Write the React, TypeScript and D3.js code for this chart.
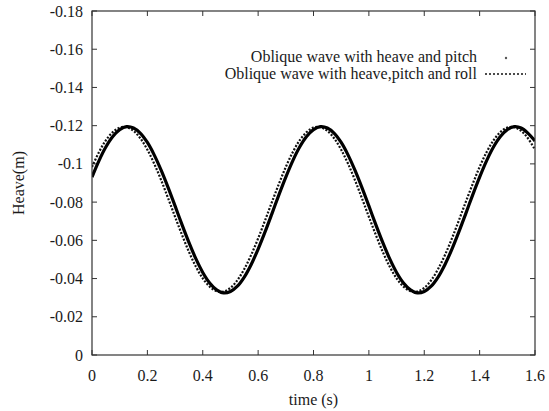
import React from "react";
import * as d3 from "d3";

const period1: number[] = [
  -0.0931, -0.1016, -0.1088, -0.1143, -0.1179, -0.1195, -0.1188, -0.1160, -0.1112, -0.1046,
  -0.0966, -0.0876, -0.0780, -0.0682, -0.0589, -0.0504, -0.0432, -0.0377, -0.0341, -0.0325,
  -0.0332, -0.0360, -0.0408, -0.0474, -0.0554, -0.0644, -0.0740, -0.0838,
];
const period2: number[] = [
  -0.0984, -0.1061, -0.1123, -0.1166, -0.1190, -0.1192, -0.1173, -0.1133, -0.1074, -0.1000,
  -0.0914, -0.0820, -0.0723, -0.0629, -0.0540, -0.0463, -0.0401, -0.0358, -0.0334, -0.0332,
  -0.0351, -0.0391, -0.0450, -0.0524, -0.0610, -0.0704, -0.0801, -0.0895,
];

// time samples every 0.025 s from 0 to 1.6
const times: number[] = [
  0, 0.025, 0.05, 0.075, 0.1, 0.125, 0.15, 0.175, 0.2, 0.225, 0.25, 0.275, 0.3, 0.325, 0.35,
  0.375, 0.4, 0.425, 0.45, 0.475, 0.5, 0.525, 0.55, 0.575, 0.6, 0.625, 0.65, 0.675, 0.7, 0.725,
  0.75, 0.775, 0.8, 0.825, 0.85, 0.875, 0.9, 0.925, 0.95, 0.975, 1.0, 1.025, 1.05, 1.075, 1.1,
  1.125, 1.15, 1.175, 1.2, 1.225, 1.25, 1.275, 1.3, 1.325, 1.35, 1.375, 1.4, 1.425, 1.45, 1.475,
  1.5, 1.525, 1.55, 1.575, 1.6,
];
const heavePitch: number[] = [
  ...period1, ...period1,
  -0.0931, -0.1016, -0.1088, -0.1143, -0.1179, -0.1195, -0.1188, -0.1160, -0.1120,
];
const heavePitchRoll: number[] = [
  ...period2, ...period2,
  -0.0984, -0.1061, -0.1123, -0.1166, -0.1190, -0.1192, -0.1173, -0.1133, -0.1074,
];

const xTicks: number[] = [0, 0.2, 0.4, 0.6, 0.8, 1, 1.2, 1.4, 1.6];
const yTicks: number[] = [0, -0.02, -0.04, -0.06, -0.08, -0.1, -0.12, -0.14, -0.16, -0.18];
const legendLabels: string[] = [
  "Oblique wave with heave and pitch",
  "Oblique wave with heave,pitch and roll",
];

const W = 549;
const H = 411;
const m = { left: 92, right: 535, top: 11, bottom: 355 };
const FONT = "'Liberation Serif', 'DejaVu Serif', serif";
const FS = 16;

export default function App() {
  const x = d3.scaleLinear().domain([0, 1.6]).range([m.left, m.right]);
  const y = d3.scaleLinear().domain([0, -0.18]).range([m.bottom, m.top]);

  const line = d3
    .line<number>()
    .x((_, i) => x(times[i]))
    .y((d) => y(d))
    .curve(d3.curveCatmullRom);

  const tickLen = 5;
  const axisColor = "#333";
  const textColor = "#1a1a1a";

  return (
    <svg
      width={W}
      height={H}
      style={{ position: "absolute", left: 0, top: 0, background: "#fff" }}
      fontFamily={FONT}
    >
      <rect x={0} y={0} width={W} height={H} fill="#fff" />
      <defs>
        <clipPath id="plot">
          <rect x={m.left} y={m.top} width={m.right - m.left} height={m.bottom - m.top} />
        </clipPath>
      </defs>

      {/* ticks */}
      {xTicks.map((t) => (
        <g key={"x" + t}>
          <line x1={x(t)} x2={x(t)} y1={m.bottom} y2={m.bottom - tickLen} stroke={axisColor} />
          <line x1={x(t)} x2={x(t)} y1={m.top} y2={m.top + tickLen} stroke={axisColor} />
          <text x={x(t)} y={381} textAnchor="middle" fontSize={FS} fill={textColor}>
            {String(t)}
          </text>
        </g>
      ))}
      {yTicks.map((t) => (
        <g key={"y" + t}>
          <line x1={m.left} x2={m.left + tickLen} y1={y(t)} y2={y(t)} stroke={axisColor} />
          <line x1={m.right} x2={m.right - tickLen} y1={y(t)} y2={y(t)} stroke={axisColor} />
          <text x={83} y={y(t) + 5.5} textAnchor="end" fontSize={FS} fill={textColor}>
            {t === 0 ? "0" : String(t)}
          </text>
        </g>
      ))}

      {/* series */}
      <g clipPath="url(#plot)">
        <path d={line(heavePitchRoll) || ""} fill="none" stroke="#111" strokeWidth={2.2} strokeDasharray="2,1.6" />
        <path d={line(heavePitch) || ""} fill="none" stroke="#000" strokeWidth={3.2} />
      </g>

      {/* border */}
      <rect
        x={m.left}
        y={m.top}
        width={m.right - m.left}
        height={m.bottom - m.top}
        fill="none"
        stroke={axisColor}
        strokeWidth={1.2}
      />

      {/* legend */}
      <text x={477} y={62} textAnchor="end" fontSize={FS} fill={textColor}>
        {legendLabels[0]}
      </text>
      <circle cx={506} cy={58} r={1.2} fill="#555" />
      <text x={477} y={78.5} textAnchor="end" fontSize={FS} fill={textColor}>
        {legendLabels[1]}
      </text>
      <line x1={485} x2={526} y1={74} y2={74} stroke="#111" strokeWidth={1.6} strokeDasharray="2,2" />

      {/* axis titles */}
      <text x={(m.left + m.right) / 2} y={405} textAnchor="middle" fontSize={FS} fill={textColor}>
        time (s)
      </text>
      <text
        transform={`translate(24, ${(m.top + m.bottom) / 2}) rotate(-90)`}
        textAnchor="middle"
        fontSize={FS}
        fill={textColor}
      >
        Heave(m)
      </text>
    </svg>
  );
}
